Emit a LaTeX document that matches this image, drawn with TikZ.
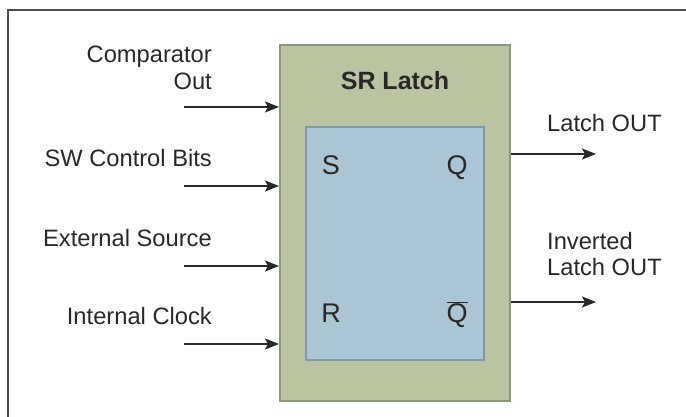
\documentclass[tikz,border=0pt]{standalone}
\usepackage{fontspec}
\setmainfont{Liberation Sans}
\usepackage{xcolor}
\usetikzlibrary{arrows.meta,positioning}

\definecolor{latchgreen}{RGB}{187,196,160}
\definecolor{latchgreenline}{RGB}{140,152,118}
\definecolor{coreblue}{RGB}{170,198,212}
\definecolor{coreblueline}{RGB}{125,152,170}
\definecolor{inkgray}{RGB}{40,40,40}

\tikzset{
  lbl/.style={inner sep=0pt, text=inkgray, font=\fontsize{23.7}{27}\selectfont},
  pin/.style={inner sep=0pt, text=inkgray, font=\fontsize{27}{30}\selectfont},
  sig/.style={draw=inkgray, line width=1.3pt, -{Stealth[length=14pt,width=11pt,inset=3pt]}}
}

\begin{document}
\begin{tikzpicture}[x=1pt,y=-1pt]
    \useasboundingbox (0,0) rectangle (686,417);
    % outer frame
    \draw[line width=2pt, draw=black!70] (8,420) |- (690,10);

    % latch blocks
    \node[draw=latchgreenline, fill=latchgreen, line width=2pt,
          minimum width=230pt, minimum height=356pt] (latch) at (395,223) {};
    \node[draw=coreblueline, fill=coreblue, line width=2pt,
          minimum width=178pt, minimum height=233pt] (core) at (395,243.5) {};
    \node[inner sep=0pt, text=inkgray, font=\fontsize{25}{28}\selectfont\bfseries,
          anchor=base] (title) at (395,90) {SR Latch};

    % pins
    \node[pin, anchor=base] (pinS) at (331,175) {S};
    \node[pin, anchor=base] (pinQ) at (457,175) {Q};
    \node[pin, anchor=base] (pinR) at (331,322) {R};
    \node[pin, anchor=base] (pinQb) at (457,322) {$\overline{\mbox{Q}}$};

    % inputs
    \node[lbl, anchor=base east] (cmp) at (212,63) {Comparator};
    \node[lbl, anchor=base east] (cmpb) at (212,90) {Out};
    \node[lbl, anchor=base east] (swbits) at (212,167) {SW Control Bits};
    \node[lbl, anchor=base east] (extsrc) at (212,246) {External Source};
    \node[lbl, anchor=base east] (intclk) at (212,324) {Internal Clock};

    \coordinate (in1) at (184,107);
    \coordinate (in2) at (184,186);
    \coordinate (in3) at (184,266);
    \coordinate (in4) at (184,344);
    \draw[sig] (in1) -- (in1 -| latch.west);
    \draw[sig] (in2) -- (in2 -| latch.west);
    \draw[sig] (in3) -- (in3 -| latch.west);
    \draw[sig] (in4) -- (in4 -| latch.west);

    % outputs
    \coordinate (out1) at (596,154);
    \coordinate (out2) at (596,302);
    \draw[sig] (out1 -| latch.east) -- (out1);
    \draw[sig] (out2 -| latch.east) -- (out2);
    \node[lbl, anchor=base west] (qout) at (547,132) {Latch OUT};
    \node[lbl, anchor=base west] (qbout) at (547,250) {Inverted};
    \node[lbl, anchor=base west] (qboutb) at (547,276) {Latch OUT};
  \end{tikzpicture}
\end{document}
